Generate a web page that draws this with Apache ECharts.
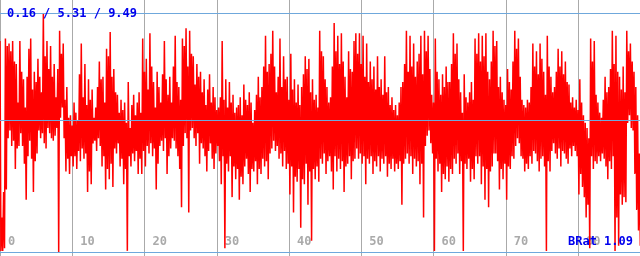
<!DOCTYPE html>
<html><head><meta charset="utf-8">
<script src="https://cdn.jsdelivr.net/npm/echarts@6/dist/echarts.min.js"></script>
<style>html,body{margin:0;padding:0;background:#fff}#c{width:640px;height:256px}</style>
</head><body><div id="c"></div>
<script>
// spacing between successive columns on the x axis (units)
const columnStep = 0.25;
// per-column peak values
const highs = [8.4,1.5,2.5,8.5,8.2,8.3,8.0,8.4,7.6,7.5, 6.0,8.4,7.2,6.9,5.8,7.0,8.1,8.5,6.5,7.2,
  6.8,7.7,7.0,6.4,9.49,7.8,8.4,7.3,8.2,7.0, 7.5,6.2,7.3,8.8,7.9,8.3,6.1,6.6,5.4,5.5,
  5.1,6.0,5.6,5.3,7.1,8.3,6.2,7.5,5.9,6.9, 6.1,6.5,5.4,5.8,6.6,7.6,6.9,7.0,6.0,8.1,
  7.8,8.75,7.0,7.3,6.4,6.3,5.6,6.1,5.7,6.0, 5.2,6.8,5.0,5.9,6.3,5.5,6.0,6.4,5.6,8.5,
  7.2,7.7,6.5,8.7,7.4,6.8,5.8,7.2,6.6,6.0, 7.1,8.4,6.9,6.3,7.0,6.0,7.4,8.6,6.8,6.6,
  6.1,8.5,8.2,8.9,7.4,8.8,7.9,7.8,6.7,7.5, 7.0,7.2,6.4,6.9,5.9,6.5,7.1,6.0,6.6,6.2,
  5.7,5.8,6.2,8.4,6.1,6.9,5.8,6.8,6.0,6.3, 5.6,5.8,5.9,6.2,5.5,6.7,6.1,5.9,6.4,6.0,
  5.2,5.7,6.3,7.0,6.2,6.6,7.4,8.6,7.2,7.5, 7.9,8.8,7.4,6.4,7.0,8.5,6.6,7.8,6.9,7.0,
  6.1,7.9,6.5,6.9,6.0,6.7,5.9,6.6,7.1,7.8, 7.3,7.7,6.4,6.9,6.1,6.3,5.8,8.8,8.0,7.8,
  6.9,6.6,6.0,6.2,7.4,9.1,8.0,8.6,7.5,8.7, 7.6,7.0,6.2,8.0,7.3,7.2,8.4,8.7,7.9,8.7,
  7.5,8.6,7.0,8.3,6.8,7.6,6.9,7.4,6.5,7.8, 6.6,6.9,6.3,7.8,6.4,6.6,5.9,6.2,5.7,5.9,
  5.5,6.0,6.6,6.8,7.5,8.8,7.2,8.6,7.4,8.3, 7.0,7.6,7.9,8.6,7.1,8.8,8.0,8.6,7.3,6.3,
  6.0,8.5,7.2,6.9,6.3,7.1,6.6,7.4,6.8,6.8, 7.5,8.7,7.9,8.3,6.9,6.4,5.6,7.1,6.2,6.0,
  6.4,6.8,6.1,8.5,7.9,8.7,7.6,8.6,7.8,8.7, 7.2,6.9,7.6,8.8,8.2,8.4,6.6,7.0,6.4,6.1,
  5.9,7.3,6.8,6.5,7.6,8.8,8.1,8.5,7.0,6.1, 5.9,5.8,6.1,6.0,6.6,8.3,7.4,8.0,7.1,8.3,
  7.7,7.2,6.3,8.6,7.4,7.0,6.4,6.6,7.2,8.1, 7.4,8.0,7.1,7.6,6.8,6.7,6.0,6.2,5.8,6.1,
  5.7,6.9,6.0,5.5,5.2,5.0,4.6,8.5,7.6,8.4, 6.3,6.0,5.6,5.4,6.1,7.0,6.4,6.6,7.3,8.8,
  7.5,8.6,7.2,7.0,6.5,7.4,6.4,8.8,8.0,8.3, 7.6,7.2,6.6,5.5,4.0];
// per-column trough values
const lows = [0.2,0.2,0.3,2.6,4.6,4.9,4.3,4.5,3.4,4.2, 4.3,4.8,4.3,3.6,2.2,3.9,4.5,3.8,2.5,3.7,
  4.0,4.9,4.6,4.8,4.4,4.2,5.0,4.8,4.6,4.5, 4.7,5.0,0.16,5.4,5.8,4.6,3.3,3.8,3.2,3.9,
  3.5,3.9,3.4,4.1,3.7,4.2,3.8,4.0,2.5,3.3, 2.8,4.4,4.5,4.1,4.6,4.3,3.5,3.9,2.6,3.4,
  3.0,3.6,2.7,4.2,4.0,4.4,3.5,3.8,2.8,3.4, 0.2,3.9,3.5,4.0,3.7,4.1,3.2,3.8,3.2,4.1,
  3.5,4.3,4.0,4.4,3.9,4.2,2.6,3.6,4.3,4.5, 4.1,4.6,3.2,3.9,4.2,4.6,4.5,4.2,3.9,3.4,
  1.9,4.3,4.8,4.6,1.7,4.9,5.0,4.6,4.3,4.8, 3.6,4.4,4.2,3.9,3.3,4.1,4.4,3.8,3.4,4.0,
  4.3,3.7,2.8,3.9,0.3,3.6,3.3,3.9,2.3,3.5, 3.0,3.4,2.2,3.1,2.8,3.5,3.8,3.2,2.5,3.4,
  3.3,3.7,2.8,3.4,3.2,3.8,3.5,3.7,3.0,4.0, 4.2,4.5,4.1,4.3,3.8,4.0,3.5,4.1,3.4,3.6,
  2.4,3.5,1.7,3.1,2.9,3.4,1.1,3.0,2.8,3.6, 2.0,3.3,0.6,3.4,3.0,3.5,2.9,3.8,3.6,4.0,
  3.2,3.7,3.9,3.3,2.6,3.9,3.3,3.8,3.4,3.7, 2.5,3.5,3.6,3.9,3.0,3.7,3.8,4.2,3.8,4.0,
  3.6,3.9,2.8,3.8,3.6,3.9,3.2,3.7,3.5,3.9, 3.3,3.8,3.6,3.9,3.1,3.6,3.4,3.8,3.3,3.6,
  3.4,3.7,2.0,3.6,3.8,4.0,3.6,3.9,3.2,3.8, 3.5,3.7,2.8,3.6,1.5,4.3,4.7,4.9,4.4,4.0,
  0.2,3.8,3.3,3.6,2.5,3.2,3.0,3.5,2.9,3.4, 3.2,3.8,3.6,4.0,3.2,3.7,0.2,3.6,3.4,3.8,
  2.9,3.4,3.0,3.9,3.6,3.9,2.8,3.5,2.2,3.4, 1.9,3.3,3.5,4.0,4.0,3.7,2.6,3.4,3.0,3.6,
  2.2,3.5,3.4,3.9,3.8,4.3,4.6,4.4,3.9,3.8, 3.3,3.6,3.4,3.9,3.6,4.1,4.0,3.7,3.3,3.8,
  3.9,3.5,0.2,3.7,3.3,4.1,4.4,4.0,3.8,4.2, 3.5,4.1,4.0,3.8,3.6,4.2,3.9,4.3,4.1,3.9,
  2.4,3.2,2.7,2.3,1.5,2.0,0.3,3.9,3.4,3.7, 3.6,3.9,3.7,4.0,3.8,3.5,3.0,3.7,3.4,3.9,
  0.2,1.5,0.4,2.4,2.0,2.3,2.1,5.2,5.5,5.0, 4.9,3.2,1.8,1.0,0.4];
// statistics shown in the header and as reference lines
const statMin = 0.16, statMean = 5.31, statMax = 9.49;
const ratioLabel = 'BRat 1.09';
const xTicks = [0, 10, 20, 30, 40, 50, 60, 70, 80];

// each column: the line runs from its peak down to its trough
const points = [];
highs.forEach((h, j) => {
  points.push([j * columnStep, h]);
  points.push([j * columnStep + columnStep / 2, lows[j]]);
});
const chart = echarts.init(document.getElementById('c'), null, {renderer: 'canvas'});
const mono = '"DejaVu Sans Mono", "Liberation Mono", monospace';
chart.setOption({
  animation: false,
  grid: {left: 0, right: 0, top: 0, bottom: 0},
  xAxis: {
    type: 'value', min: 0, max: 88.58, interval: 10,
    axisLine: {show: false}, axisTick: {show: false},
    splitLine: {show: true, lineStyle: {color: '#aaaaaa', width: 1}},
    axisLabel: {
      inside: true, align: 'left', verticalAlign: 'bottom', margin: 8,
      padding: [0, 0, 0, 8],
      color: '#aaaaaa', fontFamily: mono, fontWeight: 'bold', fontSize: 12,
      showMaxLabel: false,
      formatter: v => (xTicks.indexOf(v) >= 0 ? String(v) : '')
    }
  },
  yAxis: {
    type: 'value', min: 0, max: 10,
    axisLine: {show: false}, axisTick: {show: false}, axisLabel: {show: false},
    splitLine: {show: false}
  },
  series: [{
    type: 'line', data: points, symbol: 'none', sampling: null,
    lineStyle: {color: '#ff0000', width: 1.5, join: 'miter'}, itemStyle: {color: '#ff0000'},
    markLine: {
      silent: true, symbol: 'none', label: {show: false},
      lineStyle: {color: '#6fa8dc', type: 'solid', width: 1},
      emphasis: {disabled: true},
      data: [{yAxis: statMin}, {yAxis: statMean}, {yAxis: statMax}]
    }
  }],
  graphic: [
    {type: 'text', left: 7, top: 8, z: 100,
     style: {text: statMin.toFixed(2) + ' / ' + statMean.toFixed(2) + ' / ' + statMax.toFixed(2),
       fill: '#0000ee', font: 'bold 12px ' + mono}},
    {type: 'text', right: 7, bottom: 8, z: 100,
     style: {text: ratioLabel, fill: '#0000ee', font: 'bold 12px ' + mono}}
  ]
});
</script></body></html>
